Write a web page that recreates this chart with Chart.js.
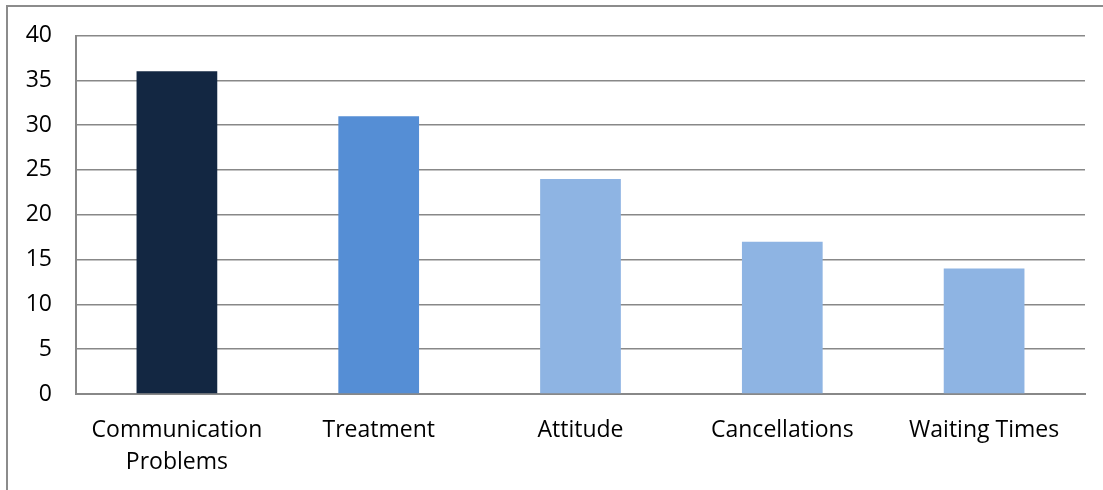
<!DOCTYPE html>
<html>
<head>
<meta charset="utf-8">
<script src="https://cdn.jsdelivr.net/npm/chart.js@4"></script>
<style>
  html, body { margin: 0; padding: 0; background: #fff; overflow: hidden; }
  #frame { position: absolute; left: 6px; top: 5px; width: 1200px; height: 600px;
           border: 2px solid #8c8c8c; box-sizing: border-box; }
  #wrap { position: absolute; left: 0; top: 0; width: 1103px; height: 490px; }
</style>
</head>
<body>
<div id="frame"></div>
<div id="wrap"><canvas id="c" width="1103" height="490"></canvas></div>
<script>
// Complaint categories and counts
const categories = [['Communication', 'Problems'], 'Treatment', 'Attitude', 'Cancellations', 'Waiting Times'];
const counts = [36, 31, 24, 17, 14];
const barColors = ['#132742', '#558ED5', '#8EB4E3', '#8EB4E3', '#8EB4E3'];
const yTicks = [0, 5, 10, 15, 20, 25, 30, 35, 40];

const gridGrey = '#888888';
const labelFont = { family: 'Open Sans', size: 23 };

new Chart(document.getElementById('c'), {
  type: 'bar',
  data: {
    labels: categories,
    datasets: [{
      data: counts,
      backgroundColor: barColors,
      borderWidth: 0,
      barPercentage: 0.4,
      categoryPercentage: 1.0
    }]
  },
  options: {
    responsive: false,
    animation: false,
    devicePixelRatio: 1,
    layout: { padding: { left: 0, top: 35, right: 18, bottom: 0 } },
    plugins: { legend: { display: false }, tooltip: { enabled: false } },
    scales: {
      x: {
        grid: { display: false, drawTicks: false },
        border: { display: true, color: gridGrey, width: 2 },
        ticks: { color: '#000', font: { ...labelFont, lineHeight: 1.39 }, padding: 20, maxRotation: 0, autoSkip: false },
        afterFit: s => { s.height = 96; }
      },
      y: {
        min: 0, max: 40,
        afterBuildTicks: s => { s.ticks = yTicks.map(v => ({ value: v })); },
        grid: { color: gridGrey, lineWidth: 1.5, drawTicks: false },
        border: { display: true, color: gridGrey, width: 2 },
        ticks: { color: '#000', font: { ...labelFont, lineHeight: 1.0 }, padding: 24 },
        afterFit: s => { s.width = 76; }
      }
    }
  }
});
</script>
</body>
</html>
